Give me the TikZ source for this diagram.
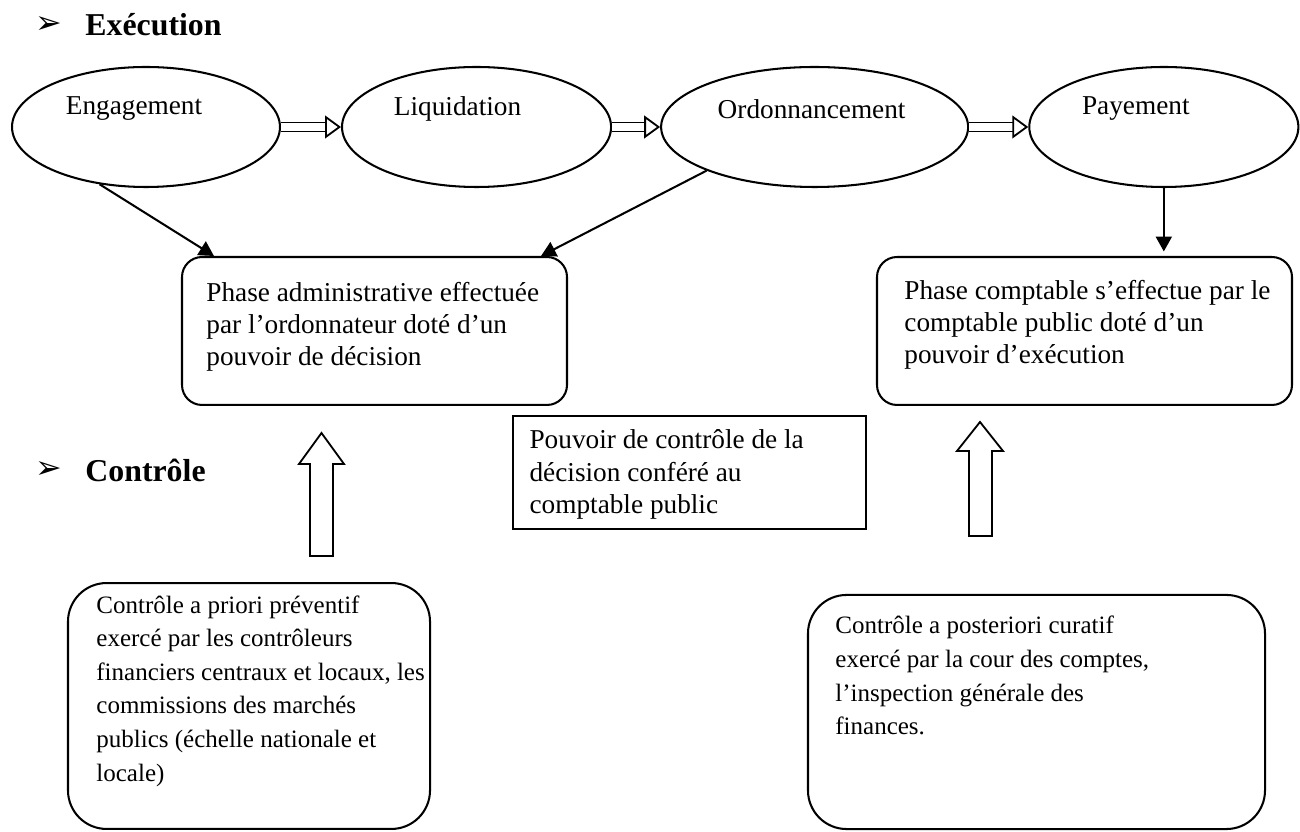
\documentclass[tikz,border=0pt]{standalone}
\usepackage{fontspec}
\setmainfont{Liberation Serif}
\newfontfamily\dejavu{DejaVu Sans}
\usetikzlibrary{shapes.geometric,arrows.meta,positioning,calc}

\begin{document}
\begin{tikzpicture}[x=0.44pt,y=-0.44pt,
  phase/.style={ellipse,draw,line width=0.9pt,minimum height=52.8pt,inner sep=0pt},
  lbl/.style={font=\fontsize{12}{14}\selectfont,inner sep=0pt},
  card/.style={rectangle,rounded corners=8.8pt,draw,line width=0.9pt,inner sep=0pt},
  bigcard/.style={card,rounded corners=17pt},
  txt/.style={anchor=north west,align=left,inner sep=0pt,font=\fontsize{12}{14.1}\selectfont},
  small/.style={txt,font=\fontsize{11}{14.8}\selectfont},
  head/.style={anchor=west,inner sep=0pt,font=\bfseries\fontsize{14}{16}\selectfont},
  bullet/.style={inner sep=0pt,font=\dejavu\fontsize{14}{14}\selectfont},
  arr/.style={-{Triangle[length=6.5pt,width=7pt]},line width=0.9pt},
  dbl/.style={double,double distance=3.2pt,line width=0.8pt,-{Triangle[open,length=7pt,width=10pt]}},
  blockup/.style={draw,line width=0.8pt,fill=white}]
  \useasboundingbox (0,0) rectangle (1300,832);
  % headings
  \node[bullet] (b1) at (49,25) {➢};
  \node[head] (exe) at (85,25) {Exécution};
  \node[bullet] (b2) at (49,470) {➢};
  \node[head] (ctl) at (85,470) {Contrôle};
  % phases
  \node[phase,minimum width=117.9pt] (eng) at (146,127) {};
  \node[phase,minimum width=118.4pt,right=26.4pt of eng] (liq) {};
  \node[phase,minimum width=135.1pt,right=21.1pt of liq] (ord) {};
  \node[phase,minimum width=118.4pt,right=26pt of ord] (pay) {};
  \node[lbl] (engt) at ($(eng)+(-12,-18)$) {Engagement};
  \node[lbl] (liqt) at ($(liq)+(-19,-18)$) {Liquidation};
  \node[lbl] (ordt) at ($(ord)+(-3,-18)$) {Ordonnancement};
  \node[lbl] (payt) at ($(pay)+(-28,-18)$) {Payement};
  \draw[dbl](eng)--(liq); \draw[dbl](liq)--(ord); \draw[dbl](ord)--(pay);
  % phase boxes
  \node[card,minimum width=169.4pt,minimum height=65.1pt] (admin) at (374.5,331) {};
  \node[card,minimum width=182.6pt,minimum height=65.1pt] (cpt) at (1084.5,331) {};
  \node[txt] (admint) at ($(admin.north west)+(25,26)$)
    {Phase administrative effectuée\\par l’ordonnateur doté d’un\\pouvoir de décision};
  \node[txt] (cptt) at ($(cpt.north west)+(28,24)$)
    {Phase comptable s’effectue par le\\comptable public doté d’un\\pouvoir d’exécution};
  \draw[arr](eng.231)--($(admin.north west)+(33,0)$);
  \draw[arr](ord.202)--($(admin.north east)+(-27,0)$);
  \draw[arr,shorten >=2pt](pay.south)--(pay.south |- cpt.north);
  % middle box
  \node[draw,line width=0.8pt,minimum width=155.3pt,minimum height=49.7pt,inner sep=0pt] (mid) at (689.5,472.5) {};
  \node[txt,font=\fontsize{12}{14.4}\selectfont] (midt) at ($(mid.north west)+(17,14)$)
    {Pouvoir de contrôle de la\\décision conféré au\\comptable public};
  % control boxes
  \node[bigcard,minimum width=159.3pt,minimum height=108.2pt] (prio) at (249,706) {};
  \node[bigcard,minimum width=201.1pt,minimum height=103pt] (post) at (1036.5,712) {};
  \node[small] (priot) at ($(prio.north west)+(29,13)$)
    {Contrôle a priori préventif\\exercé par les contrôleurs\\financiers centraux et locaux, les\\commissions des marchés\\publics (échelle nationale et\\locale)};
  \node[small] (postt) at ($(post.north west)+(28,22)$)
    {Contrôle a posteriori curatif\\exercé par la cour des comptes,\\l’inspection générale des\\finances.};
  % block arrows
  \draw[blockup] (310,556)--(310,464)--(299,464)--(321.5,433)--(344,464)--(333,464)--(333,556)--cycle;
  \draw[blockup] (969,536)--(969,451)--(957,451)--(980,422)--(1003,451)--(992,451)--(992,536)--cycle;
\end{tikzpicture}
\end{document}
